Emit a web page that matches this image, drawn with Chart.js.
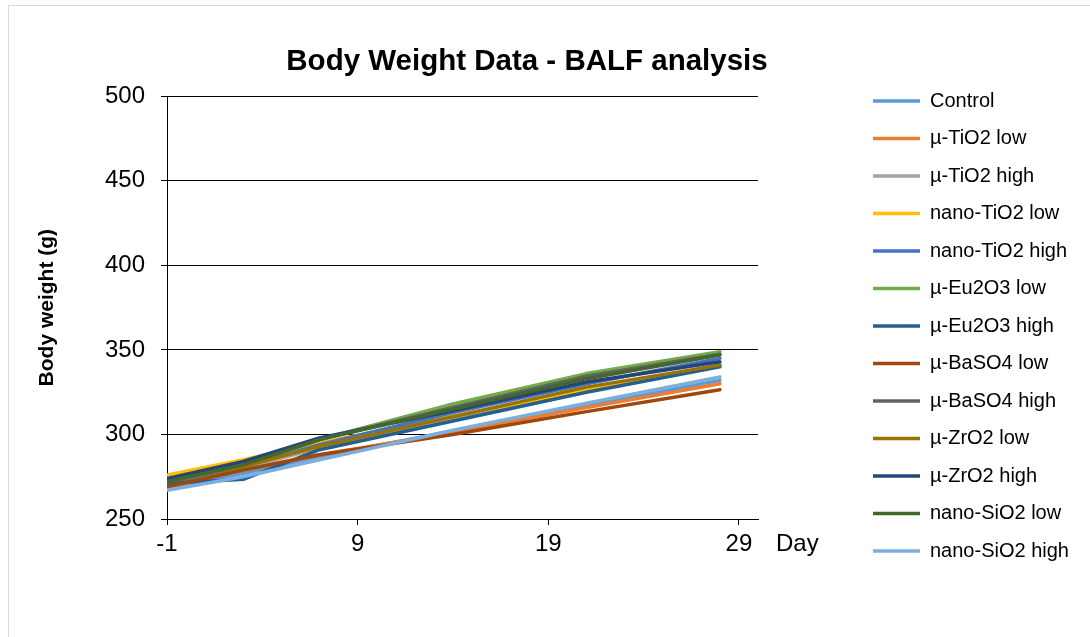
<!DOCTYPE html>
<html>
<head>
<meta charset="utf-8">
<script src="https://cdn.jsdelivr.net/npm/chart.js@4.4.1/dist/chart.umd.min.js"></script>
<style>
  html, body { margin: 0; padding: 0; background: #fff; }
  canvas { display: block; }
</style>
</head>
<body>
<canvas id="bodyWeight" width="1090" height="637"></canvas>
<script>
var days = [-1, 3, 7, 14, 21, 28];
var xTicks = [-1, 9, 19, 29];

var control      = [268, 277, 287, 302, 317, 332];
var tio2MuLow    = [269, 279, 288, 301, 316, 330];
var tio2MuHigh   = [270, 280, 292, 310, 326, 341];
var tio2NanoLow  = [276, 285, 295, 311, 326, 341];
var tio2NanoHigh = [271, 281, 294, 313, 330, 345];
var eu2o3Low     = [272, 282, 297, 318, 336, 349];
var eu2o3High    = [271, 273.5, 291, 308, 325, 340];
var baso4Low     = [269, 279, 288, 300, 313.5, 326.5];
var baso4High    = [272, 282, 297, 316, 334.5, 347.5];
var zro2Low      = [272, 281, 293, 310.5, 328, 341];
var zro2High     = [274, 284, 298, 314, 331, 343];
var sio2NanoLow  = [272, 282, 297, 315, 333, 347];
var sio2NanoHigh = [267, 275, 285, 302.5, 318.5, 334];

var seriesNames = ["Control", "µ-TiO2 low", "µ-TiO2 high", "nano-TiO2 low", "nano-TiO2 high",
  "µ-Eu2O3 low", "µ-Eu2O3 high", "µ-BaSO4 low", "µ-BaSO4 high", "µ-ZrO2 low", "µ-ZrO2 high",
  "nano-SiO2 low", "nano-SiO2 high"];
var seriesValues = [control, tio2MuLow, tio2MuHigh, tio2NanoLow, tio2NanoHigh, eu2o3Low, eu2o3High,
  baso4Low, baso4High, zro2Low, zro2High, sio2NanoLow, sio2NanoHigh];
var seriesColors = ["#5B9BD5", "#ED7D31", "#A5A5A5", "#FFC000", "#4472C4", "#70AD47", "#255E91",
  "#9E480E", "#636363", "#997300", "#264478", "#43682B", "#7CAFDD"];

var FONT = "'Liberation Sans', Arial, sans-serif";
Chart.defaults.font.family = FONT;
Chart.defaults.color = "#000";

var datasets = seriesNames.map(function(name, i) {
  return {
    label: name,
    data: days.map(function(d, j) { return {x: d, y: seriesValues[i][j]}; }),
    borderColor: seriesColors[i],
    backgroundColor: seriesColors[i],
    borderWidth: 3.5,
    pointRadius: 0,
    tension: 0,
    borderCapStyle: "round",
    borderJoinStyle: "round",
    // later series on top, like the original
    order: seriesNames.length - i
  };
});

// white page, frame, legend/title placement and the "Day" axis caption
var chartDecor = {
  id: "chartDecor",
  beforeDraw: function(chart) {
    var ctx = chart.ctx;
    ctx.save();
    ctx.fillStyle = "#fff";
    ctx.fillRect(0, 0, chart.width, chart.height);
    ctx.strokeStyle = "#d9d9d9";
    ctx.lineWidth = 1;
    ctx.strokeRect(8.5, 5.5, chart.width + 20, chart.height + 20);
    ctx.restore();
  },
  afterLayout: function(chart) {
    var lg = chart.legend;
    lg.left = 855.5;
    lg.right = chart.width;
    lg.top = 73.5;
    var t = chart.titleBlock;
    t.left = 8;
    t.right = 1046;
  },
  afterDraw: function(chart) {
    var ctx = chart.ctx;
    var xs = chart.scales.x;
    ctx.save();
    ctx.font = "24px " + FONT;
    ctx.fillStyle = "#000";
    ctx.textAlign = "left";
    ctx.textBaseline = "middle";
    ctx.fillText("Day", xs.right + 18, xs.top + 6 + 5 + 14.4);
    ctx.restore();
  }
};

new Chart(document.getElementById("bodyWeight"), {
  type: "line",
  data: { datasets: datasets },
  plugins: [chartDecor],
  options: {
    responsive: false,
    animation: false,
    layout: { padding: { top: 5, left: 8, right: 132, bottom: 5 } },
    plugins: {
      title: {
        display: true,
        text: "Body Weight Data - BALF analysis",
        font: { size: 29.5, weight: "bold" },
        padding: { top: 39.3, bottom: 16.6 }
      },
      legend: {
        position: "right",
        align: "start",
        maxWidth: 200,
        labels: {
          usePointStyle: true,
          pointStyle: "line",
          pointStyleWidth: 47,
          font: { size: 20 },
          padding: 17.5,
          sort: function(a, b) { return a.datasetIndex - b.datasetIndex; }
        }
      },
      tooltip: { enabled: false }
    },
    scales: {
      x: {
        type: "linear",
        min: -1,
        max: 30,
        afterBuildTicks: function(scale) {
          scale.ticks = xTicks.map(function(v) { return {value: v}; });
        },
        afterFit: function(scale) { scale.height = 113; },
        grid: { drawOnChartArea: false, drawTicks: true, tickLength: 6, color: "#000" },
        border: { color: "#000", width: 1 },
        ticks: { font: { size: 24 }, padding: 5, maxRotation: 0 }
      },
      y: {
        min: 250,
        max: 500,
        afterFit: function(scale) { scale.width = 159; },
        grid: { color: "#000", tickLength: 6 },
        border: { color: "#000", width: 1 },
        ticks: { stepSize: 50, font: { size: 24 }, padding: 16 },
        title: {
          display: true,
          text: "Body weight (g)",
          font: { size: 21, weight: "bold" },
          padding: { top: 26.4, bottom: 0 }
        }
      }
    }
  }
});
</script>
</body>
</html>
